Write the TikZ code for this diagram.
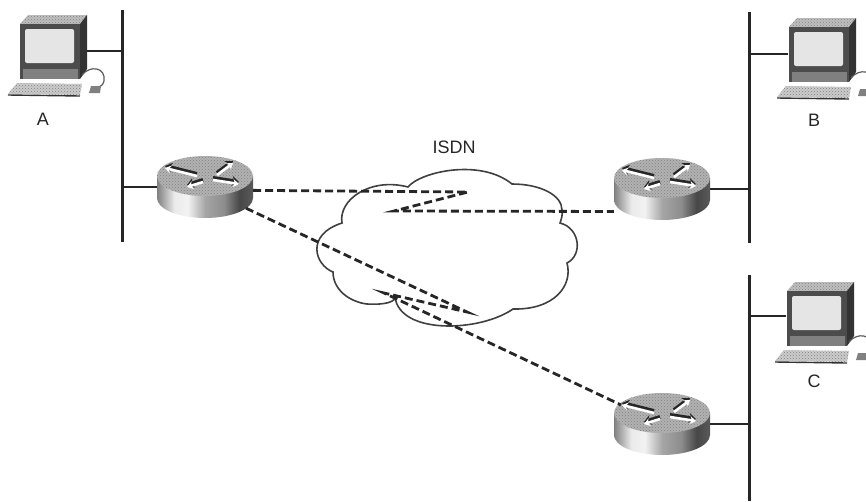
\documentclass[tikz,border=0pt]{standalone}
\usepackage{fontspec}
\setmainfont{Liberation Sans}
\usetikzlibrary{arrows.meta,patterns}
\pgfdeclarehorizontalshading{routerside}{100bp}{color(0bp)=(black!50); color(25bp)=(black!50);
  color(34bp)=(black!8); color(41bp)=(black!5); color(50bp)=(black!35); color(60bp)=(black!45);
  color(68bp)=(black!72); color(75bp)=(black!65); color(100bp)=(black!65)}
\tikzset{
  bus/.style={line width=3pt,black!85},
  stub/.style={line width=2.2pt,black!85},
  isdnlink/.style={line width=2.8pt,black!85,dash pattern=on 8pt off 4pt},
  cloudline/.style={line width=1.6pt,black!75},
  lbl/.style={font=\fontsize{18}{20}\selectfont,text=black!85,inner sep=0pt},
  hub/.style={minimum width=96pt,minimum height=60pt,inner sep=0pt},
  hostbox/.style={minimum width=67pt,minimum height=60pt,inner sep=0pt},
  stipple/.style={pattern=crosshatch dots,pattern color=black!50},
  router/.pic={
    \path[shade,shading=routerside] (-48,-11) -- (-48,11)
      arc[start angle=180,end angle=0,x radius=48,y radius=20] -- (48,-11) -- cycle;
    \path[fill=black!30] (0,-11) ellipse[x radius=48,y radius=20];
    \path[stipple] (0,-11) ellipse[x radius=48,y radius=20];
    \foreach \xa/\ya/\xb/\yb in {-8/-12/-40/-20,12/-13/28/-25,8/-8/34/-4,-2/-6/-18/-1}{
      \draw[line width=4pt,black!85,-{Stealth[length=7pt,width=10pt]}] (\xa,\ya-1) -- (\xb,\yb-1);
      \draw[line width=2.6pt,white,-{Stealth[length=6pt,width=8pt]}] (\xa,\ya+1) -- (\xb,\yb+1);
    }
  },
  computer/.pic={
    % origin is the upper left corner of the cabinet top
    \path[fill=black!25] (0,9) -- (8,0) -- (67,0) -- (60,9) -- cycle;
    \path[stipple] (0,9) -- (8,0) -- (67,0) -- (60,9) -- cycle;
    \path[fill=black!80] (60,9) -- (67,0) -- (67,54) -- (60,64) -- cycle;
    \path[fill=black!70] (0,9) rectangle (60,64);
    \path[fill=black!10,rounded corners=2pt] (5,14) rectangle (54,48);
    \path[fill=black!50] (3,54) rectangle (58,64);
    \path[fill=black!20] (-3,79) -- (-12,79) -- (-3,68) -- (62,69) -- (60,80) -- cycle;
    \path[stipple] (-3,79) -- (-12,79) -- (-3,68) -- (62,69) -- (60,80) -- cycle;
    \draw[line width=1.4pt,black!80] (-12,80) -- (60,81);
    \draw[line width=1.2pt,black!65] (62,60) .. controls (70,50) and (86,52) .. (84,66) .. controls (83,70) and (81,71) .. (79,72);
    \path[fill=black!50] (71,71) -- (81,71) -- (80,78) -- (69,78) -- cycle;
  },
}
\begin{document}
\begin{tikzpicture}[x=1pt,y=-1pt]
  \useasboundingbox (0,0) rectangle (866,501);
  \clip (0,0) rectangle (866,501);
  % nodes
  \node[hub] (ra) at (205,187) {};
  \node[hub] (rb) at (662,189) {};
  \node[hub] (rc) at (662,424) {};
  \node[hostbox] (pca) at (53,51) {};
  \node[hostbox] (pcb) at (822,54) {};
  \node[hostbox] (pcc) at (820,316) {};
  \coordinate (busatop) at (122,10);
  \coordinate (busabot) at (122,242);
  \coordinate (busbtop) at (749,12);
  \coordinate (busbbot) at (749,243);
  \coordinate (busctop) at (749,275);
  \coordinate (buscbot) at (749,501);
  \coordinate (zb1) at (468,192);
  \coordinate (zb2) at (394,211);
  \coordinate (zc1) at (467,312);
  \coordinate (zc2) at (384,293);
  % cloud
  \draw[cloudline] (408,187) .. controls (420,172) and (480,158) .. (512,184)
    .. controls (540,184) and (562,195) .. (562,210) .. controls (563,215) and (561,220) .. (560,223)
    .. controls (580,228) and (583,255) .. (567,263)
    .. controls (573,285) and (555,310) .. (513,309)
    .. controls (480,332) and (400,335) .. (395,297)
    .. controls (395,302) and (385,305) .. (367,304) .. controls (350,302) and (333,290) .. (333,272)
    .. controls (315,265) and (305,235) .. (342,223)
    .. controls (338,200) and (370,177) .. (408,187) -- cycle;
  \node[lbl] (isdn) at (454,147) {ISDN};
  % buses and stubs
  \draw[bus] (busatop) -- (busabot);
  \draw[bus] (busbtop) -- (busbbot);
  \draw[bus] (busctop) -- (buscbot);
  \draw[stub] (pca.east) -- (pca.east -| busatop);
  \draw[stub] (ra.west) -- (ra.west -| busatop);
  \draw[stub] (pcb.west) -- (pcb.west -| busbtop);
  \draw[stub] (rb.east) -- (rb.east -| busbtop);
  \draw[stub] (pcc.west) -- (pcc.west -| busctop);
  \draw[stub] (rc.east) -- (rc.east -| busctop);
  % devices
  \pic at (ra) {router};
  \pic at (rb) {router};
  \pic at (rc) {router};
  \pic at (20,15) {computer};
  \pic at (789,18) {computer};
  \pic at (787,282) {computer};
  \node[lbl] (lbla) at (43,119) {A};
  \node[lbl] (lblb) at (814,120) {B};
  \node[lbl] (lblc) at (814,381) {C};
  % dialup links
  \draw[isdnlink] (ra.-4) -- (zb1) -- (zb2) -- (rb.205);
  \draw[isdnlink,shorten <=-8pt,shorten >=-8pt] (ra.-27) -- (zc1) -- (zc2) -- (rc.155);
\end{tikzpicture}
\end{document}
